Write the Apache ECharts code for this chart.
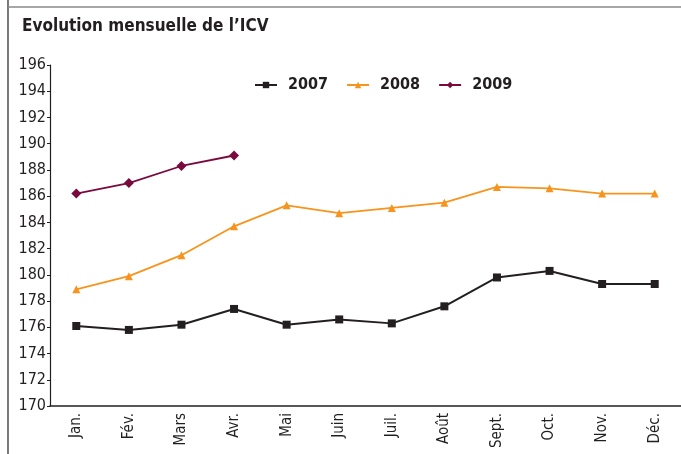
<!DOCTYPE html>
<html>
<head>
<meta charset="utf-8">
<script src="https://cdn.jsdelivr.net/npm/echarts@6/dist/echarts.min.js"></script>
<style>html,body{margin:0;padding:0;background:#fff}#c{width:681px;height:454px}</style>
</head>
<body>
<div id="c"></div>
<script>
const months = ['Jan.','Fév.','Mars','Avr.','Mai','Juin','Juil.','Août','Sept.','Oct.','Nov.','Déc.'];
const s2007 = [176.1,175.8,176.2,177.4,176.2,176.6,176.3,177.6,179.8,180.3,179.3,179.3];
const s2008 = [178.9,179.9,181.5,183.7,185.3,184.7,185.1,185.5,186.7,186.6,186.2,186.2];
const s2009 = [186.2,187.0,188.3,189.1];
const seriesNames = ['2007','2008','2009'];
const FONT = '"DejaVu Sans Condensed","Liberation Sans Narrow",sans-serif';

const chart = echarts.init(document.getElementById('c'), null, {renderer:'canvas'});
chart.setOption({
  animation:false,
  backgroundColor:'#fff',
  title:{text:'Evolution mensuelle de l\u2019ICV',left:17,top:13,
    textStyle:{fontFamily:FONT,fontWeight:'bold',fontSize:17,color:'#231f20'}},
  legend:{top:72,left:249,itemGap:18,itemWidth:22,itemHeight:8,
    textStyle:{fontFamily:FONT,fontWeight:'bold',fontSize:16,color:'#231f20',padding:[0,0,0,6]},
    data:seriesNames},
  graphic:[
    {type:'line',shape:{x1:8,y1:0,x2:8,y2:454},style:{stroke:'#231f20',lineWidth:1.2}},
    {type:'line',shape:{x1:8,y1:7,x2:681,y2:7},style:{stroke:'#8a8a8a',lineWidth:1.5}}
  ],
  grid:{left:50,right:0,top:65,bottom:48},
  xAxis:{type:'category',data:months,boundaryGap:true,
    axisLine:{lineStyle:{color:'#231f20',width:1.5}},
    axisTick:{length:4,lineStyle:{color:'#231f20'}},
    axisLabel:{rotate:90,fontFamily:FONT,fontSize:15,color:'#231f20',margin:7}},
  yAxis:{type:'value',min:170,max:196,interval:2,
    axisLine:{show:true,lineStyle:{color:'#231f20',width:1.2}},
    axisTick:{show:true,length:3,lineStyle:{color:'#231f20'}},
    splitLine:{show:false},
    axisLabel:{fontFamily:FONT,fontSize:16,color:'#231f20',margin:4}},
  series:[
    {name:'2007',type:'line',data:s2007,symbol:'rect',symbolSize:8,
      lineStyle:{color:'#231f20',width:2},itemStyle:{color:'#231f20'}},
    {name:'2008',type:'line',data:s2008,symbol:'triangle',symbolSize:8,
      lineStyle:{color:'#f7941d',width:1.8},itemStyle:{color:'#f7941d'}},
    {name:'2009',type:'line',data:s2009,symbol:'diamond',symbolSize:10,
      lineStyle:{color:'#7a0a3e',width:1.8},itemStyle:{color:'#7a0a3e'}}
  ]
});
</script>
</body>
</html>
